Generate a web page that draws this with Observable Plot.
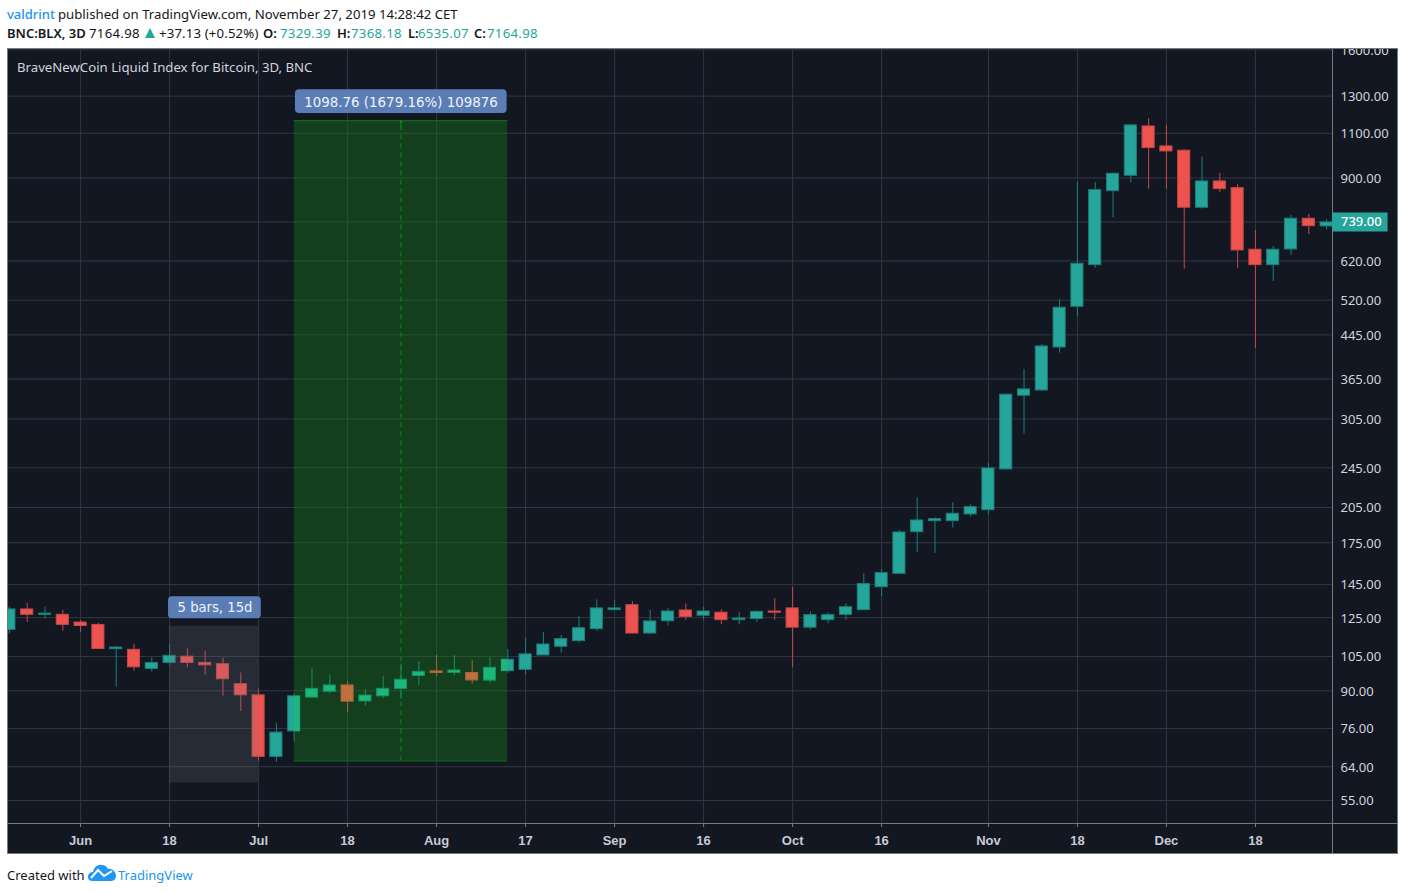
<!DOCTYPE html>
<html><head><meta charset="utf-8">
<script src="https://cdn.jsdelivr.net/npm/d3@7"></script>
<script src="https://cdn.jsdelivr.net/npm/@observablehq/plot@0.6"></script>
<style>
html,body{margin:0;padding:0;background:#fff;font-family:"Noto Sans",sans-serif;color:#131722}
#page{position:relative;width:1405px;height:894px;overflow:hidden}
.h{position:absolute;font-size:13.2px;line-height:18px;white-space:nowrap}
.t{color:#26a69a;letter-spacing:.3px}.b{font-weight:600;font-size:13px}
#chart{position:absolute;left:8px;top:49px;width:1389px;height:804px;outline:1px solid #7a7a7a}
#chart svg{display:block}
#foot{position:absolute;left:7px;top:866px;font-size:13px;line-height:18px;white-space:nowrap}
#foot svg{position:absolute;left:80px;top:-2px}
#foot a{position:absolute;left:111px;top:0;color:#2196f3;text-decoration:none}
#tri{position:absolute;left:145px;top:28px;width:0;height:0;border-left:5.5px solid transparent;border-right:5.5px solid transparent;border-bottom:10px solid #26a69a}
</style></head><body>
<div id="page">
<div class="h" style="left:7px;top:5px;color:#2196f3;font-weight:500;font-size:13px">valdrint</div>
<div class="h" style="left:58px;top:5px">published on TradingView.com, November 27, 2019 14:28:42 CET</div>
<div class="h b" style="left:7px;top:24px">BNC:BLX, 3D</div>
<div class="h" style="left:89px;top:24px;letter-spacing:.3px">7164.98</div>
<div id="tri"></div>
<div class="h" style="left:159px;top:24px;letter-spacing:.15px">+37.13 (+0.52%)</div>
<div class="h b" style="left:263px;top:24px">O:</div><div class="h t" style="left:280px;top:24px">7329.39</div>
<div class="h b" style="left:337px;top:24px">H:</div><div class="h t" style="left:351px;top:24px">7368.18</div>
<div class="h b" style="left:408px;top:24px">L:</div><div class="h t" style="left:418px;top:24px">6535.07</div>
<div class="h b" style="left:474px;top:24px">C:</div><div class="h t" style="left:487px;top:24px">7164.98</div>
<div id="chart"></div>
<div id="foot">Created with
<svg width="30" height="18" viewBox="0 0 30 18"><path d="M1 13 C1 9 4 8 6 8 C7 3 11 0 15 1 C18 1 20 3 21 5 C25 4 29 8 29 12 C29 16 26 17 23 17 L6 17 C3 17 1 16 1 13Z" fill="#2196f3"/><path d="M4 14 L11 6 L17 12 L25 7" fill="none" stroke="#fff" stroke-width="2"/></svg>
<a>TradingView</a></div>
</div>
<script>
const open = [118.3,129.7,126.6,126.6,122.3,121.0,108.5,108.2,99.3,102.0,104.9,102.0,101.4,92.7,88.2,66.9,75.0,87.3,89.6,92.2,85.8,87.8,90.7,96.2,98.2,97.5,97.5,94.2,98.3,98.9,105.5,109.7,112.5,118.7,129.3,132.2,116.4,123.0,129.1,126.1,127.8,123.6,124.2,128.5,130.3,119.5,123.6,126.6,129.3,143.3,152.2,183.5,192.8,192.8,198.7,202.5,243.2,338.6,346.7,420.5,504.9,608.6,848.6,909.3,1134.6,1037.2,1017.3,787.6,886.3,860.1,652.2,608.6,653,749.6,724.1];
const high = [131.0,133.3,131.0,129.1,123.4,121.8,109.9,110.8,104.5,110.8,108.6,107.6,104.2,97.5,90.8,77.9,88.7,99.5,96.4,93.8,90.4,96.1,101.4,102.6,105.5,105.5,103.0,104.5,108.4,114.2,116.8,115.4,125.5,135.4,135,134.4,129.1,130.3,133,131,129.5,127.8,128.9,136.2,143.2,128.3,127.8,133,152.2,155.2,184.9,214.1,195.7,209.4,207.5,250.2,340.6,381,426.8,521,882.3,882.3,918.7,1140,1174.5,1140,1022,988.5,918.7,873.3,711.2,661.9,760.8,764.2,746.2];
const low = [116.2,122.3,124.2,117.6,117.1,108.5,91.5,98.3,97.9,100.9,99.8,96.5,87.8,82.0,65.6,65.3,71.5,86.9,88.7,81.5,84,87,86.6,92.2,95.8,96.2,92.7,93.2,97.4,96.5,105.5,106.6,111.5,117.6,129.1,116.2,115.8,120.5,123.6,123.6,121.1,121.1,122.3,123.6,99.8,118.2,121.6,123.6,129.2,137.5,152,167.5,166.8,186.8,196.3,198.7,242.6,284.9,345.2,410,482.7,600.5,753,879.6,856.2,856.2,597.8,782.7,843.5,600.5,418.6,565.6,635.7,698.6,712.2];
const close = [129.7,126.6,127.3,121.0,120.4,108.6,109.3,100.0,102.0,105.3,102.0,100.9,94.8,88.2,66.9,74.6,87.8,90.8,92.2,85.7,88.1,90.8,94.6,98.0,97.5,98.6,94.3,99.8,103.5,106.0,110.8,113.5,119.2,130.3,130.3,116.4,122.9,128.5,125.3,128.5,123.6,124.5,128.3,127.8,119.5,126.4,126.4,131,145.3,152.7,183.2,193.4,194.5,199.3,205.3,244.3,340.1,348.3,422.4,502.7,612.4,852.4,917.5,1139.7,1029.3,1014.1,787.6,886.3,856.2,650.1,608.6,652.2,749.6,725.1,737.2];

const priceTicks = [1600,1300,1100,900,739,620,520,445,365,305,245,205,175,145,125,105,90,76,64,55];
const xTickPos = [4,9,14,19,24,29,34,39,44,49,55,60,65,70];
const xTickLabels = ["Jun","18","Jul","18","Aug","17","Sep","16","Oct","16","Nov","18","Dec","18"];
const lastPrice = [739];
const chartTitle = ["BraveNewCoin Liquid Index for Bitcoin, 3D, BNC"];

const measureBars = {from:16, to:28, mid:22, base:65.7, top:1164.2, label:"1098.76 (1679.16%) 109876"};
const rangeBars = {from:9, to:14, bottom:59.5, top:120.3, label:"5 bars, 15d"};

const xMin=-0.05, xMax=74.33, xEdge=78.03, yMin=49.6, yMax=1602.7, yEdge=43.3;
const candles = open.map((o,i)=>({i,o,h:high[i],l:low[i],c:close[i]}));
const zone = d => d.i>measureBars.from && d.i<measureBars.to;
const bodyFill = d => zone(d) ? (d.c>=d.o?"#1db67d":"#c0703f") : (d.c>=d.o?"#26a69a":"#ef5350");
const edge = d => zone(d) ? (d.c>=d.o?"#17905f":"#a8653a") : (d.c>=d.o?"#1b8078":"#c24a48");
const grid="#323642", axisLine="#787b86", txt="#d1d4dc", tag="#5a7db5";
const fontMain='"Noto Sans",sans-serif', fontTag='"DejaVu Sans",sans-serif';

const halves=[{i:16,x1:16,x2:16.34,o:open[16],c:close[16]},{i:28,x1:27.66,x2:28,o:open[28],c:close[28]}];

const plot = Plot.plot({
  width:1389,height:804,marginLeft:0,marginRight:65,marginTop:0,marginBottom:30,
  style:{background:"#131722",fontFamily:fontMain,fontSize:"13px",overflow:"hidden"},
  x:{type:"linear",domain:[xMin,xMax],axis:null},
  y:{type:"log",domain:[yMin,yMax],axis:null},
  color:{type:"identity"},
  marks:[
    Plot.ruleY(priceTicks,{x1:xMin,x2:xMax,stroke:grid,strokeWidth:1}),
    Plot.ruleX(xTickPos,{y1:yMin,y2:yMax,stroke:grid,strokeWidth:1}),
    Plot.rect([measureBars],{x1:"from",x2:"to",y1:"base",y2:"top",fill:"rgb(19,137,22)",fillOpacity:0.35}),
    Plot.ruleY([measureBars.base,measureBars.top],{x1:measureBars.from,x2:measureBars.to,stroke:"#0b6b12",strokeWidth:1.2}),
    Plot.ruleX([measureBars.mid],{y1:measureBars.base,y2:measureBars.top,stroke:"#0f8a1a",strokeWidth:1,strokeDasharray:"5,4"}),
    Plot.arrow([measureBars],{x1:"mid",x2:"mid",y1:1130,y2:"top",stroke:"#0f8a1a",strokeWidth:1,headLength:7,bend:0}),
    Plot.ruleX(candles,{x:"i",y1:"l",y2:"h",stroke:edge,strokeWidth:1}),
    Plot.rect(candles,{x1:d=>d.i-0.34,x2:d=>d.i+0.34,y1:"o",y2:"c",fill:bodyFill,stroke:edge,strokeWidth:1}),
    Plot.rect(halves,{x1:"x1",x2:"x2",y1:"o",y2:"c",fill:"#1db67d"}),
    Plot.rect([rangeBars],{x1:"from",x2:"to",y1:"bottom",y2:"top",fill:"rgb(120,123,134)",fillOpacity:0.2}),
    Plot.rect([0],{x1:16.07,x2:27.96,y1:1203,y2:1337,fill:tag,rx:4}),
    Plot.text([measureBars.label],{x:22,y:1264,fill:"#f0f3fa",fontSize:13.4,text:d=>d,fontFamily:fontTag}),
    Plot.rect([0],{x1:8.94,x2:14.15,y1:124.4,y2:137.3,fill:tag,rx:4}),
    Plot.text([rangeBars.label],{x:11.55,y:130.8,fill:"#f0f3fa",fontSize:13.2,text:d=>d,fontFamily:fontTag}),
    Plot.text(chartTitle,{frameAnchor:"top-left",dx:8.5,dy:13,text:d=>d,fill:txt,fontSize:13.2,textAnchor:"start",lineAnchor:"top"}),
    Plot.ruleY([yMin],{x1:xMin,x2:xEdge,stroke:axisLine,strokeWidth:1}),
    Plot.ruleX([xMax],{y1:yEdge,y2:yMax,stroke:axisLine,strokeWidth:1}),
    Plot.axisY(priceTicks,{anchor:"right",tickSize:0,tickPadding:8,dy:0.7,tickFormat:d=>d.toFixed(2),fill:txt,fontSize:13,label:null,textAnchor:"start"}),
    Plot.ruleY(lastPrice,{x1:xMax,x2:77.45,stroke:"#26a69a",strokeWidth:19}),
    Plot.text(lastPrice,{x:xMax,y:d=>d,dx:8.5,dy:0,text:d=>d.toFixed(2),fill:"#ffffff",fontSize:13,textAnchor:"start",fontWeight:500}),
    Plot.axisX(xTickPos,{anchor:"bottom",tickSize:4,tickPadding:8,stroke:axisLine,fill:"#c8cbd3",fontSize:13,label:null,
      tickFormat:d=>xTickLabels[xTickPos.indexOf(d)],fontFamily:'"Liberation Sans",sans-serif',fontWeight:600})
  ]
});
document.getElementById("chart").appendChild(plot);
</script>
</body></html>
